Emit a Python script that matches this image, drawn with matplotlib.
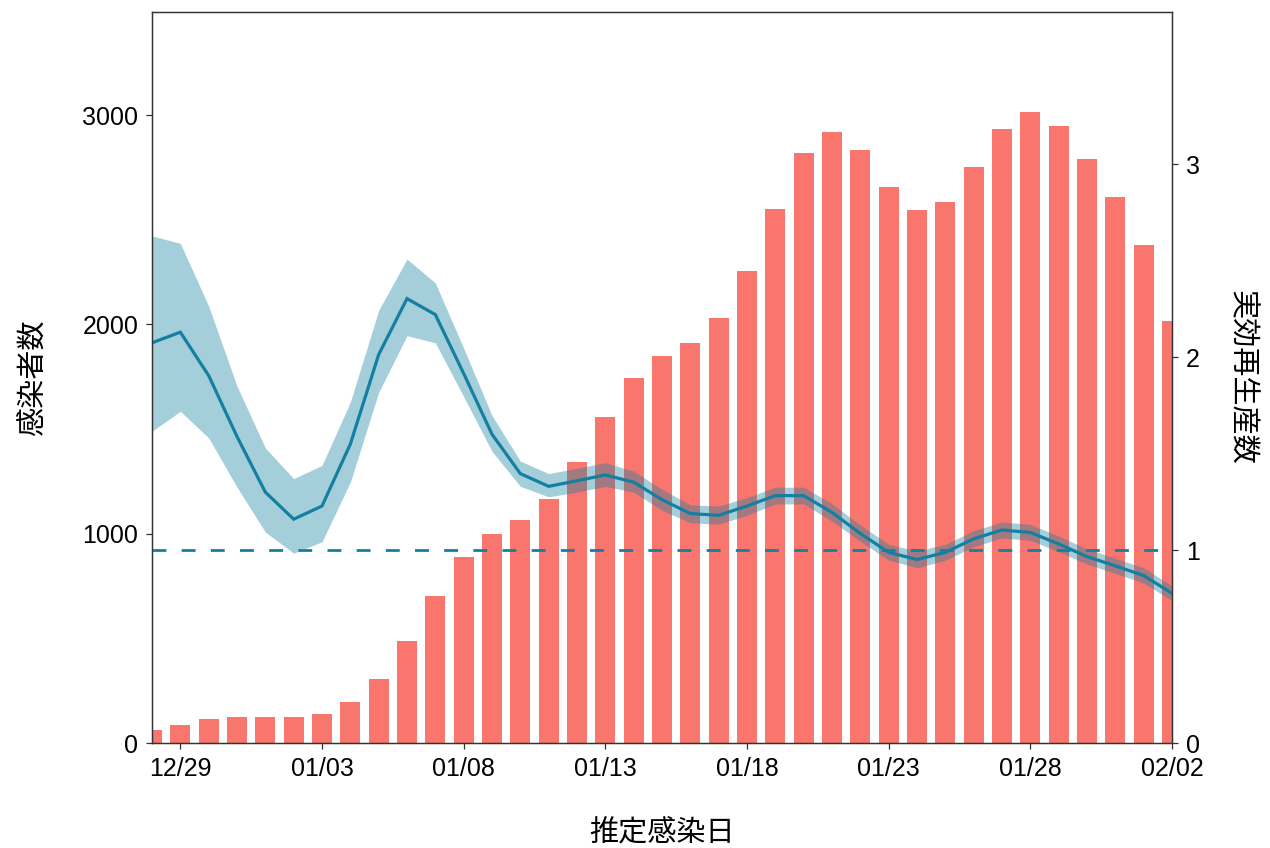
import numpy as np
import matplotlib.pyplot as plt

plt.rcParams['font.family'] = ['Liberation Sans', 'Noto Sans CJK JP', 'DejaVu Sans']

# daily data, 12/28 - 02/02
dates = ["12/28", "12/29", "12/30", "12/31",
         "01/01", "01/02", "01/03", "01/04", "01/05", "01/06", "01/07", "01/08",
         "01/09", "01/10", "01/11", "01/12", "01/13", "01/14", "01/15", "01/16",
         "01/17", "01/18", "01/19", "01/20", "01/21", "01/22", "01/23", "01/24",
         "01/25", "01/26", "01/27", "01/28", "01/29", "01/30", "01/31",
         "02/01", "02/02"]

infected = [62, 86, 115, 125, 125, 125, 139, 195, 305, 486, 703, 890,
            1000, 1067, 1167, 1342, 1559, 1744, 1848, 1911, 2029, 2254, 2553, 2819,
            2919, 2831, 2656, 2545, 2584, 2750, 2935, 3016, 2949, 2792, 2610,
            2381, 2015]

rt = [2.074, 2.129, 1.904, 1.588, 1.300, 1.160, 1.228, 1.549, 2.013, 2.303, 2.220, 1.915,
      1.600, 1.396, 1.330, 1.359, 1.389, 1.352, 1.261, 1.189, 1.180, 1.228, 1.282, 1.282,
      1.195, 1.086, 0.988, 0.951, 0.988, 1.058, 1.104, 1.091, 1.032, 0.966, 0.918,
      0.868, 0.776]

rt_upper = [2.628, 2.589, 2.264, 1.849, 1.529, 1.370, 1.439, 1.767, 2.242, 2.508, 2.384, 2.046,
            1.697, 1.461, 1.396, 1.424, 1.453, 1.409, 1.315, 1.234, 1.228, 1.272, 1.326, 1.326,
            1.240, 1.130, 1.030, 0.995, 1.030, 1.100, 1.146, 1.133, 1.073, 1.006, 0.958,
            0.908, 0.815]

rt_lower = [1.616, 1.719, 1.581, 1.326, 1.093, 0.984, 1.043, 1.352, 1.817, 2.111, 2.074, 1.795,
            1.511, 1.330, 1.276, 1.300, 1.330, 1.300, 1.206, 1.141, 1.134, 1.180, 1.239, 1.239,
            1.150, 1.045, 0.948, 0.908, 0.947, 1.017, 1.063, 1.050, 0.992, 0.927, 0.879,
            0.829, 0.738]

tick_dates = ["12/29", "01/03", "01/08", "01/13", "01/18", "01/23", "01/28", "02/02"]

BAR_COLOR = "#F8766D"
LINE_COLOR = "#1380A1"
SPINE_COLOR = "#333333"

x = np.arange(len(dates))

fig = plt.figure(figsize=(12.7, 8.48), dpi=100)
ax = fig.add_axes([0.1197, 0.1238, 0.8031, 0.862])

ax.bar(x, infected, width=0.7, color=BAR_COLOR, zorder=2)
ax.set_xlim(0, len(dates) - 1)
ax.set_ylim(0, 3492)
ax.set_yticks([0, 1000, 2000, 3000])

tick_pos = [dates.index(d) for d in tick_dates]
ax.set_xticks(tick_pos)
ax.set_xticklabels(tick_dates)

ax2 = ax.twinx()
ax2.fill_between(x, rt_lower, rt_upper, color=LINE_COLOR, alpha=0.38, lw=0)
ax2.plot(x, rt, color=LINE_COLOR, lw=2.3, solid_joinstyle='miter')
ax2.axhline(1, color=LINE_COLOR, lw=2.0, dashes=(5, 5.5))
ax2.set_ylim(0, 3.788)
ax2.set_yticks([0, 1, 2, 3])

for a in (ax, ax2):
    for s in a.spines.values():
        s.set_color(SPINE_COLOR)
        s.set_linewidth(0.9)
    a.tick_params(direction='out', length=4, width=0.9, color=SPINE_COLOR,
                  labelsize=18, labelcolor='black', pad=6)

cjk = ['Noto Sans CJK JP']
ax.set_xlabel("推定感染日", fontsize=21, family=cjk, labelpad=27)
ax.set_ylabel("感染者数", fontsize=21, family=cjk, labelpad=24)
ax2.set_ylabel("実効再生産数", fontsize=21, family=cjk,
               rotation=-90, labelpad=30, va='center')

fig.savefig("out.png", dpi=100)
